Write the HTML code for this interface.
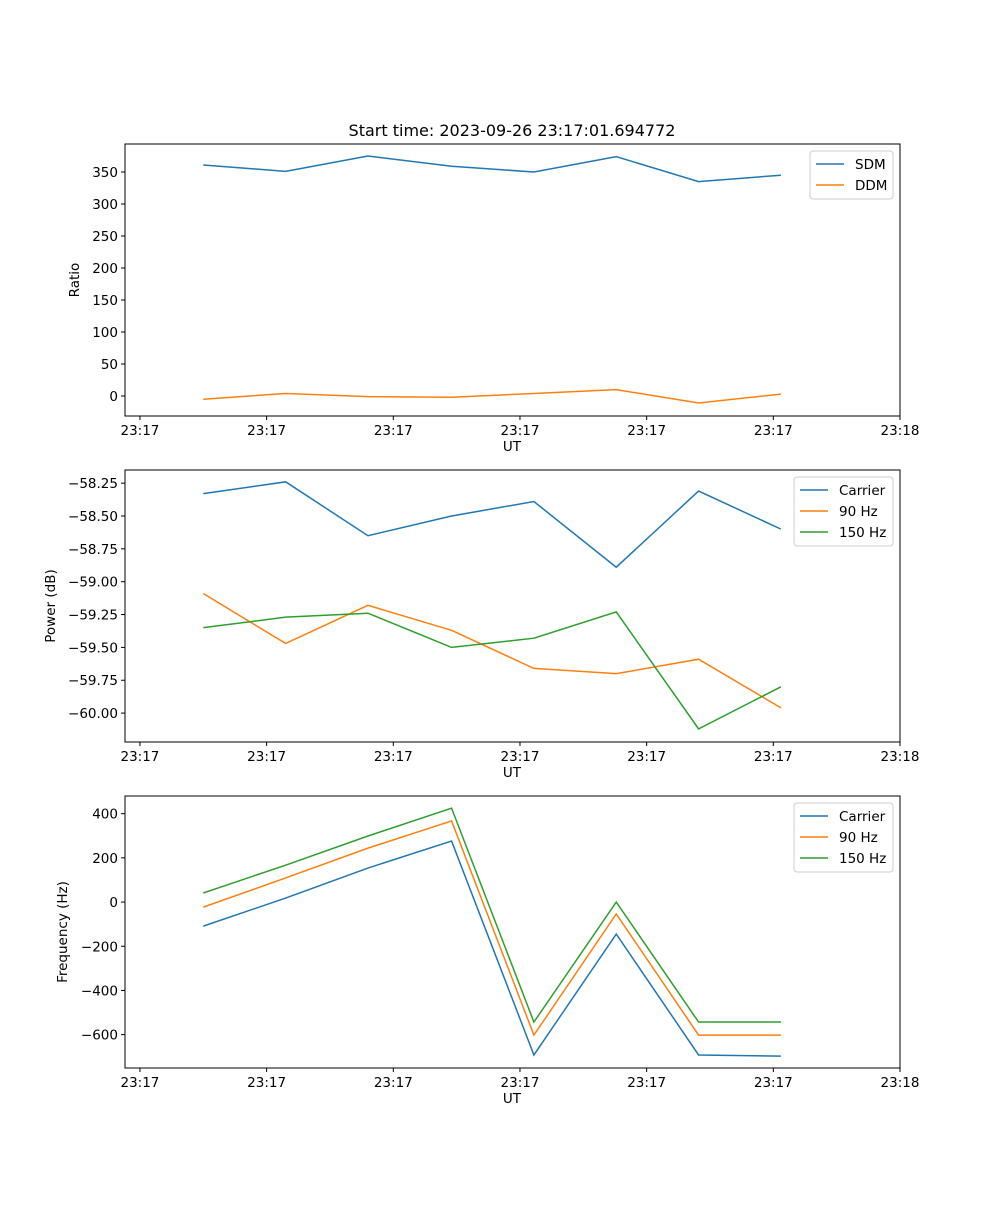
<!DOCTYPE html>
<html><head><meta charset="utf-8"><style>
body{margin:0;background:#fff}
svg text{font-family:"DejaVu Sans","Liberation Sans",sans-serif;font-size:13.5px;fill:#000}
</style></head><body>
<svg id="fig" width="1000" height="1200" xmlns="http://www.w3.org/2000/svg">
<rect width="1000" height="1200" fill="#fff"/>
<text x="512" y="136" text-anchor="middle" style="font-size:16px">Start time: 2023-09-26 23:17:01.694772</text>
</svg>
<script>
const times=[5.0,11.5,18.0,24.6,31.1,37.6,44.1,50.6];
const xTickVals=[0,10,20,30,40,50,60];
const xTickLabels=["23:17","23:17","23:17","23:17","23:17","23:17","23:18"];
const sdm=[361,351,375,359,350,374,335,345];
const ddm=[-5,4,-1,-2,4,10,-11,3];
const pCarrier=[-58.33,-58.24,-58.65,-58.50,-58.39,-58.89,-58.31,-58.60];
const p90=[-59.09,-59.47,-59.18,-59.37,-59.66,-59.70,-59.59,-59.96];
const p150=[-59.35,-59.27,-59.24,-59.50,-59.43,-59.23,-60.12,-59.80];
const fCarrier=[-109,18,154,276,-692,-145,-692,-697];
const f90=[-23,109,244,367,-602,-54,-602,-602];
const f150=[41,167,299,425,-543,0,-543,-543];
const yTicks1=[0,50,100,150,200,250,300,350];
const yTicks2=[-60.00,-59.75,-59.50,-59.25,-59.00,-58.75,-58.50,-58.25];
const yTicks3=[-600,-400,-200,0,200,400];
const C=['#1f77b4','#ff7f0e','#2ca02c'];
const svg=document.getElementById('fig');
const NS='http://www.w3.org/2000/svg';
function mk(tag,attrs,parent){const e=document.createElementNS(NS,tag);for(const k in attrs)e.setAttribute(k,attrs[k]);(parent||svg).appendChild(e);return e;}
const L=125,R=900,xmin=-1.18,xmax=60;
const xs=t=>L+(t-xmin)/(xmax-xmin)*(R-L);
function panel(name,top,bot,ymin,ymax,yt,fmt,ylabel,series,names,legendW){
  const g=mk('g',{});
  
  
  const ys=v=>bot-(v-ymin)/(ymax-ymin)*(bot-top);
  series.forEach((s,i)=>{
    const p=mk('polyline',{points:s.map((v,j)=>xs(times[j])+','+ys(v)).join(' '),fill:'none',stroke:C[i],'stroke-width':1.5},g);
    
    
  });
  mk('rect',{x:L,y:top,width:R-L,height:bot-top,fill:'none',stroke:'#000','stroke-width':1},g);
  xTickVals.forEach((v,i)=>{const x=xs(v);mk('line',{x1:x,x2:x,y1:bot,y2:bot+4,stroke:'#000'},g);
    const t=mk('text',{x:x,y:bot+19,'text-anchor':'middle'},g);t.textContent=xTickLabels[i];
    });
  yt.forEach(v=>{const y=ys(v);mk('line',{x1:L-4,x2:L,y1:y,y2:y,stroke:'#000'},g);
    const t=mk('text',{x:L-7,y:y+5,'text-anchor':'end'},g);t.textContent=fmt(v);
    });
  const xl=mk('text',{x:512,y:bot+35,'text-anchor':'middle'},g);xl.textContent='UT';
  
  const yx=name==='ratio-panel'?79:(name==='power-panel'?55:67);
  const yl=mk('text',{x:yx,y:(top+bot)/2,'text-anchor':'middle',transform:`rotate(-90 ${yx} ${(top+bot)/2})`},g);yl.textContent=ylabel;
  
  const lx=R-7-legendW,ly=top+7,lh=names.length*21+6;
  const lg=mk('g',{},g);
  
  mk('rect',{x:lx,y:ly,width:legendW,height:lh,rx:3,fill:'#fff',stroke:'#ccc'},lg);
  names.forEach((n,i)=>{const y=ly+13+i*21;
    mk('line',{x1:lx+6,x2:lx+34,y1:y,y2:y,stroke:C[i],'stroke-width':1.5},lg);
    const t=mk('text',{x:lx+45,y:y+5},lg);t.textContent=n;
    });
}
panel('ratio-panel',144,416,-31.25,393.75,yTicks1,v=>String(v),'Ratio',[sdm,ddm],['SDM','DDM'],83);
panel('power-panel',470,742,-60.22,-58.15,yTicks2,v=>'\u2212'+Math.abs(v).toFixed(2),'Power (dB)',[pCarrier,p90,p150],['Carrier','90 Hz','150 Hz'],99);
panel('frequency-panel',796,1068,-751,480,yTicks3,v=>v<0?'\u2212'+Math.abs(v):String(v),'Frequency (Hz)',[fCarrier,f90,f150],['Carrier','90 Hz','150 Hz'],99);
</script>
</body></html>
